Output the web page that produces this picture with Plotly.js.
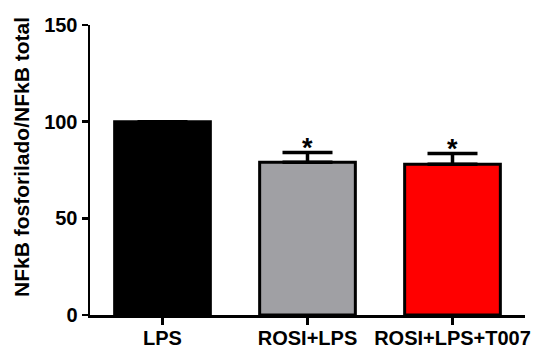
<!DOCTYPE html>
<html><head><meta charset="utf-8">
<script src="https://cdn.plot.ly/plotly-3.0.1.min.js"></script>
<style>html,body{margin:0;padding:0;background:#fff}</style>
</head><body><div id="chart" style="width:552px;height:345px"></div>
<script>
const categories = ["LPS", "ROSI+LPS", "ROSI+LPS+T007"];
const values = [100, 79, 78];
const errorsUp = [0, 5, 5.5];
const colors = ["#000000", "#a0a0a4", "#ff0000"];
const significance = ["", "*", "*"];
const yTickVals = [0, 50, 100, 150];
const yTitle = "NFkB fosforilado/NFkB total";

const font = "Liberation Sans, Arial, sans-serif";

const trace = {
  type: "bar",
  x: categories,
  y: values,
  width: 0.66,
  marker: {color: colors, line: {color: "#000", width: 3}},
  error_y: {type: "data", symmetric: false, array: errorsUp, arrayminus: [0,0,0],
            color: "#000", thickness: 3.5, width: 25, visible: true},
  hoverinfo: "none"
};

const annotations = categories.map((c, i) => ({
  x: c, y: values[i] + errorsUp[i], text: significance[i] ? "<b>" + significance[i] + "</b>" : "",
  showarrow: false, yanchor: "bottom", yshift: -12,
  font: {family: font, size: 27, color: "#000"}
})).filter(a => a.text);

annotations.push({
  xref: "paper", yref: "paper", x: 0, y: 0.5, xshift: -69, yshift: 13,
  xanchor: "center", yanchor: "middle", textangle: -90, showarrow: false,
  text: "<b>" + yTitle + "</b>",
  font: {family: font, size: 21, color: "#000"}
});

const layout = {
  width: 552, height: 345,
  margin: {l: 90, r: 27, t: 25, b: 30},
  paper_bgcolor: "#fff", plot_bgcolor: "#fff",
  showlegend: false,
  font: {family: font, color: "#000"},
  xaxis: {
    type: "category", range: [-0.5, 2.5],
    tickvals: categories, ticktext: categories.map(c => "<b>" + c + "</b>"),
    showline: true, linecolor: "#000", linewidth: 2.5,
    ticks: "outside", ticklen: 7, tickwidth: 2.5, tickcolor: "#000",
    ticklabelstandoff: -4,
    showgrid: false, zeroline: false,
    tickfont: {family: font, size: 20, color: "#000"}
  },
  yaxis: {
    range: [0, 150], tickvals: yTickVals, ticktext: yTickVals.map(v => "<b>" + v + "</b>"),
    showline: true, linecolor: "#000", linewidth: 2.5,
    ticks: "outside", ticklen: 6, tickwidth: 2.5, tickcolor: "#000",
    showgrid: false, zeroline: false,
    tickfont: {family: font, size: 20, color: "#000"}
  },
  annotations: annotations
};

Plotly.newPlot("chart", [trace], layout, {staticPlot: true, displayModeBar: false});
</script></body></html>
